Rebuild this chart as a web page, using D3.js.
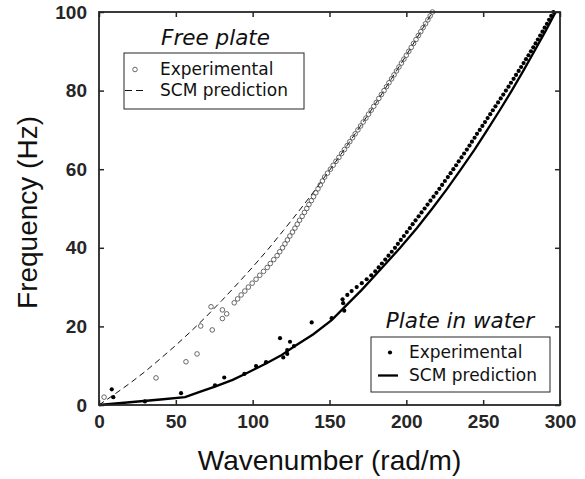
<!DOCTYPE html>
<html><head><meta charset="utf-8">
<script src="https://cdn.jsdelivr.net/npm/d3@7"></script>
<style>body{margin:0;background:#fff}</style>
</head><body>
<svg id="chart" width="585" height="479"></svg>
<script>
// ---- data ----
const xTicks = [0, 50, 100, 150, 200, 250, 300];
const yTicks = [0, 20, 40, 60, 80, 100];
const xLabel = "Wavenumber (rad/m)";
const yLabel = "Frequency (Hz)";

// Free plate, SCM prediction (dashed)  [k, f]
const freeSCM = [[0,0],[10,2.7],[20,5.5],[30,8.5],[40,11.8],[50,15.2],[60,18.8],[70,22.6],[80,26.6],[90,30.8],[100,35.1],[110,39.6],[120,44.4],[130,49.3],[140,54.4],[150,59.7],[160,65.2],[170,70.9],[180,76.7],[190,82.8],[200,89.0],[210,95.4],[217,100]];

// Free plate, experimental (open circles)
const freeExp = [[3.3,2.0],[37.1,6.9],[56.6,11.0],[63.8,13.0],[66.2,20.1],[73.7,19.1],[72.9,25.0],[80.3,24.2],[80.3,22.0],[83.1,23.2],
[88.0,26],[90.2,27],[92.5,28],[94.9,29],[97.2,30],[99.7,31],[102.2,32],[104.6,33],[107.1,34],[109.5,35],[111.5,36],[113.7,37],[115.9,38],[117.6,39],[119.4,40],[121.0,41],[122.6,42],[124.2,43],[125.9,44],[127.5,45],[129.0,46],[130.5,47],[132.2,48],[133.7,49],[135.2,50],[136.6,51],[138.2,52],[139.6,53],[141.1,54],[142.5,55],[144.0,56],[145.4,57],[146.8,58],[148.7,59],[150.6,60],[152.4,61],[154.2,62],[156.1,63],[157.9,64],[159.7,65],[161.5,66],[163.2,67],[165.0,68],[166.7,69],[168.5,70],[170.2,71],[171.9,72],[173.7,73],[175.4,74],[177.1,75],[178.8,76],[180.5,77],[182.1,78],[183.8,79],[185.5,80],[187.1,81],[188.7,82],[190.4,83],[192.0,84],[193.6,85],[195.2,86],[196.8,87],[198.4,88],[200.0,89],[201.6,90],[203.2,91],[204.7,92],[206.3,93],[207.8,94],[209.4,95],[210.9,96],[212.5,97],[214.0,98],[215.5,99],[217.0,100]];

// Plate in water, SCM prediction (solid)
const waterSCM = [[0,0],[20,0.7],[40,1.4],[56,2.0],[66,3.4],[75,4.6],[87,6.4],[96,8.1],[109,10.6],[118,12.5],[127.5,15],[139.5,18],[151.4,21.6],[159,24.6],[171,29.3],[183,34.4],[196,40.0],[206.8,45],[216.9,50],[226.5,55],[235.6,60],[244.4,65],[252.7,70],[260.8,75],[268.6,80],[276.1,85],[283.3,90],[290.4,95],[297.2,100]];

// Plate in water, experimental (filled dots)
const waterExp = [[8.3,4.0],[9.3,2.0],[29.9,0.9],[53.4,3.0],[75.5,5.0],[81.5,7.0],[94.6,7.9],[102.2,9.9],[108.7,10.9],[117.8,17.0],[119.9,12.1],[122.5,13.0],[122.5,14.0],[124.3,16.1],[126.9,15.0],[138.4,21.0],[151.4,22.1],[158.5,26.9],[158.9,25.9],[159.6,24.0],
[161.6,28],[164.4,29],[167.7,30],[171.0,31],[174.2,32],[177.2,33],[179.8,34],[182.0,35],[184.1,36],[186.3,37],[188.4,38],[190.5,39],[192.6,40],[194.5,41],[196.4,42],[198.4,43],[200.3,44],[202.3,45],[204.1,46],[206.0,47],[208.0,48],[209.9,49],[211.9,50],[213.8,51],[215.7,52],[217.7,53],[219.6,54],[221.5,55],[223.3,56],[225.1,57],[227.0,58],[228.8,59],[230.6,60],[232.4,61],[234.1,62],[235.9,63],[237.6,64],[239.4,65],[241.1,66],[242.7,67],[244.4,68],[246.0,69],[247.8,70],[249.5,71],[251.2,72],[252.9,73],[254.6,74],[256.3,75],[258.0,76],[259.7,77],[261.4,78],[263.1,79],[264.8,80],[266.5,81],[268.1,82],[269.8,83],[271.4,84],[273.1,85],[274.7,86],[276.3,87],[277.9,88],[279.5,89],[281.1,90],[282.6,91],[284.1,92],[285.6,93],[287.1,94],[288.6,95],[290.0,96],[291.5,97],[292.9,98],[294.3,99],[295.7,100]];

const legendFree = {title: "Free plate", items: ["Experimental", "SCM prediction"]};
const legendWater = {title: "Plate in water", items: ["Experimental", "SCM prediction"]};

// ---- layout ----
const L = 99, R = 560, T = 12, B = 405;
const axisColor = "#262626";
const svg = d3.select("#chart");
const x = d3.scaleLinear().domain([0, 300]).range([L, R]);
const y = d3.scaleLinear().domain([0, 100]).range([B, T]);

const tickFont = "'Liberation Sans', Arial, Helvetica, sans-serif";
const legFont = "'DejaVu Sans', Verdana, sans-serif";

// axes
const gx = svg.append("g").attr("transform", `translate(0,${B})`)
  .call(d3.axisBottom(x).tickValues(xTicks).tickFormat(d3.format("d")).tickSizeInner(-5).tickSizeOuter(0).tickPadding(10));
const gy = svg.append("g").attr("transform", `translate(${L},0)`)
  .call(d3.axisLeft(y).tickValues(yTicks).tickFormat(d3.format("d")).tickSizeInner(-5).tickSizeOuter(0).tickPadding(12));
const gt = svg.append("g").attr("transform", `translate(0,${T})`)
  .call(d3.axisTop(x).tickValues(xTicks).tickFormat("").tickSizeInner(-5).tickSizeOuter(0));
const gr = svg.append("g").attr("transform", `translate(${R},0)`)
  .call(d3.axisRight(y).tickValues(yTicks).tickFormat("").tickSizeInner(-5).tickSizeOuter(0));
[gx, gy, gt, gr].forEach(g => {
  g.select(".domain").remove();
  g.selectAll(".tick line").attr("stroke", axisColor).attr("stroke-width", 1.5);
  g.selectAll("text").attr("fill", axisColor).style("font-family", tickFont)
    .style("font-size", "19px").style("font-weight", "bold");
});

// data layers
const lineGen = d3.line().x(d => x(d[0])).y(d => y(d[1]));
svg.append("path").datum(freeSCM).attr("d", lineGen).attr("fill", "none")
  .attr("stroke", "#111").attr("stroke-width", 1).attr("stroke-dasharray", "6,4");
svg.append("g").selectAll("circle").data(freeExp).join("circle")
  .attr("cx", d => x(d[0])).attr("cy", d => y(d[1])).attr("r", 2.3)
  .attr("fill", "none").attr("stroke", "#444").attr("stroke-width", 0.8);
svg.append("path").datum(waterSCM).attr("d", lineGen).attr("fill", "none")
  .attr("stroke", "#000").attr("stroke-width", 2.3);
svg.append("g").selectAll("circle").data(waterExp).join("circle")
  .attr("cx", d => x(d[0])).attr("cy", d => y(d[1])).attr("r", 2.1).attr("fill", "#000");

// frame
svg.append("rect").attr("x", L).attr("y", T).attr("width", R - L).attr("height", B - T)
  .attr("fill", "none").attr("stroke", axisColor).attr("stroke-width", 1.8);

// axis labels
svg.append("text").attr("x", (L + R) / 2).attr("y", 470).attr("text-anchor", "middle")
  .style("font-family", tickFont).style("font-size", "28px").attr("fill", "#111").text(xLabel);
svg.append("text").attr("transform", `translate(37,${(T + B) / 2 + 4}) rotate(-90)`).attr("text-anchor", "middle")
  .style("font-family", tickFont).style("font-size", "28px").attr("fill", "#111").text(yLabel);

// legends
function legend(cfg, box, titleX, titleY, markerX, textX, base1, base2, kind) {
  const g = svg.append("g");
  g.append("text").attr("x", titleX).attr("y", titleY).attr("text-anchor", "middle")
    .style("font-family", legFont).style("font-size", "21.5px").style("font-style", "italic")
    .attr("fill", "#111").text(cfg.title);
  g.append("rect").attr("x", box[0]).attr("y", box[1]).attr("width", box[2] - box[0]).attr("height", box[3] - box[1])
    .attr("fill", "#fff").attr("stroke", axisColor).attr("stroke-width", 1);
  [base1, base2].forEach((b, i) => {
    g.append("text").attr("x", textX).attr("y", b).style("font-family", legFont)
      .style("font-size", "17px").attr("fill", "#111").text(cfg.items[i]);
  });
  if (kind === "free") {
    g.append("circle").attr("cx", markerX).attr("cy", base1 - 5.5).attr("r", 2.3)
      .attr("fill", "none").attr("stroke", "#444").attr("stroke-width", 0.8);
    g.append("line").attr("x1", markerX - 10).attr("x2", markerX + 10).attr("y1", base2 - 5.5).attr("y2", base2 - 5.5)
      .attr("stroke", "#111").attr("stroke-width", 1).attr("stroke-dasharray", "7,4");
  } else {
    g.append("circle").attr("cx", markerX + 2).attr("cy", base1 - 5.5).attr("r", 2.1).attr("fill", "#000");
    g.append("line").attr("x1", markerX - 10).attr("x2", markerX + 10).attr("y1", base2 - 5.5).attr("y2", base2 - 5.5)
      .attr("stroke", "#000").attr("stroke-width", 2.3);
  }
}
legend(legendFree, [124, 53, 304, 109], 215.5, 45, 135, 160, 75, 96, "free");
legend(legendWater, [371, 337, 550, 392], 460, 328, 388, 409, 358, 381, "water");
</script>
</body></html>
